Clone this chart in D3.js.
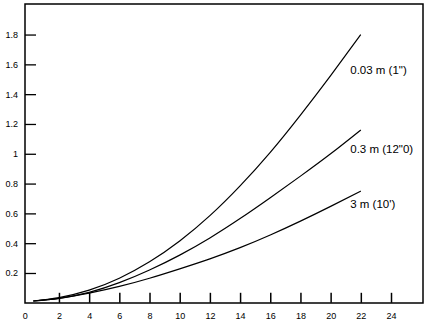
<!DOCTYPE html>
<html><head><meta charset="utf-8">
<script src="https://cdn.jsdelivr.net/npm/d3@7"></script>
<style>body{margin:0;background:#fff}svg{display:block}</style>
</head><body>
<script>
const xValues = [0.3, 2, 4, 6, 8, 10, 12, 14, 16, 18, 20, 22];
const series1 = [0.012, 0.035, 0.085, 0.165, 0.275, 0.415, 0.585, 0.785, 1.01, 1.26, 1.525, 1.8];
const series2 = [0.012, 0.03, 0.07, 0.135, 0.22, 0.32, 0.435, 0.565, 0.705, 0.85, 1.0, 1.16];
const series3 = [0.012, 0.03, 0.065, 0.11, 0.165, 0.228, 0.295, 0.37, 0.455, 0.548, 0.647, 0.75];
const seriesNames = ['0.03 m (1")', '0.3 m (12"0)', "3 m (10')"];
const xTicks = [0, 2, 4, 6, 8, 10, 12, 14, 16, 18, 20, 22, 24];
const yTicks = [0.2, 0.4, 0.6, 0.8, 1, 1.2, 1.4, 1.6, 1.8];

const W = 432, H = 323;
const svg = d3.select("body").append("svg").attr("width", W).attr("height", H);
const x = d3.scaleLinear().domain([-0.25, 26.12]).range([25, 423]);
const y = d3.scaleLinear().domain([0, 2.005]).range([302.8, 4]);

const font = "Liberation Sans, Arial, Helvetica, sans-serif";

// frame
svg.append("rect").attr("x", 25).attr("y", 4).attr("width", 398).attr("height", 299)
  .attr("fill", "none").attr("stroke", "#000").attr("stroke-width", 1.5);

// x axis (ticks point up, inside)
const xAxis = svg.append("g").attr("transform", `translate(0,${y(0)})`)
  .call(d3.axisBottom(x).tickValues(xTicks).tickSizeInner(-10).tickSizeOuter(0).tickPadding(10).tickFormat(d3.format("d")));
xAxis.select(".domain").remove();
xAxis.selectAll("line").attr("stroke", "#000").attr("stroke-width", 1.5);
xAxis.selectAll(".tick").filter(d => d === 0).select("line").remove();
xAxis.selectAll(".tick").filter(d => d === 0).select("text").attr("dx", -4);
xAxis.selectAll("text").attr("font-family", font).attr("font-size", 9).attr("fill", "#000");

// y axis (ticks point right, inside)
const yAxis = svg.append("g").attr("transform", `translate(25,0)`)
  .call(d3.axisLeft(y).tickValues(yTicks).tickSizeInner(-11).tickSizeOuter(0).tickPadding(7).tickFormat(d => String(d)));
yAxis.select(".domain").remove();
yAxis.selectAll("line").attr("stroke", "#000").attr("stroke-width", 1.3);
yAxis.selectAll("text").attr("font-family", font).attr("font-size", 9).attr("fill", "#000");

// curves
const line = d3.line().x((d, i) => x(xValues[i])).y(d => y(d)).curve(d3.curveNatural);
const all = [series1, series2, series3];
all.forEach(s => {
  svg.append("path").attr("d", line(s)).attr("fill", "none").attr("stroke", "#000").attr("stroke-width", 1.2);
});

// labels
const labelVals = [1.56, 1.03, 0.66];
seriesNames.forEach((n, i) => {
  svg.append("text").attr("x", x(21.3)).attr("y", y(labelVals[i]))
    .attr("dy", "0.35em").attr("font-family", font).attr("font-size", 11.5).attr("fill", "#000").text(n);
});
</script>
</body></html>
